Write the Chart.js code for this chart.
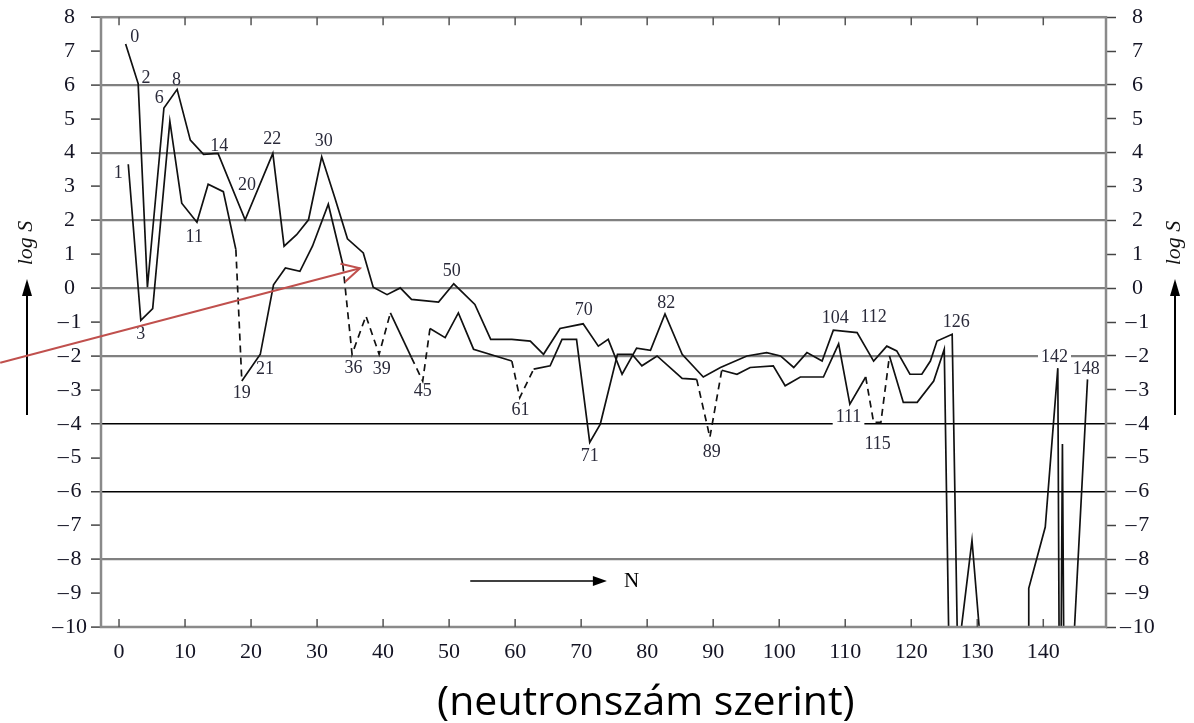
<!DOCTYPE html>
<html>
<head>
<meta charset="utf-8">
<script src="https://cdn.jsdelivr.net/npm/chart.js@4.4.0/dist/chart.umd.min.js"></script>
<style>
  body { margin: 0; background: #fff; }
  canvas { display: block; }
</style>
</head>
<body>
<canvas id="grafikon" width="1194" height="723"></canvas>
<script>
// paros gorbe (felso vonal)
let parosN = [1.0, 2.9, 4.3, 6.8, 8.8, 10.8, 12.8, 15.0, 19.1, 23.3, 25.0, 26.9, 28.7, 30.7, 32.7, 34.6, 37.0, 38.5, 40.6, 42.6,
  44.3, 48.4, 50.7, 53.9, 56.3, 59.5, 62.3, 64.3, 66.8, 70.3, 72.6, 74.1, 76.2, 78.4, 80.5, 82.7, 85.3, 88.5, 91.1, 95.1,
  98.1, 100.2, 102.2, 104.2, 106.5, 108.2, 111.8, 114.3, 116.3, 117.8, 119.8, 121.6, 122.9, 123.9, 126.2, 127.0, 137.7, 137.8, 140.3, 142.2, 142.4];
let parosLogS = [7.21, 6.04, 0.03, 5.32, 5.87, 4.37, 3.95, 3.98, 2.02, 3.98, 1.24, 1.58, 2.02, 3.88, 2.66, 1.46, 1.04, 0.03, -0.19, 0.01,
  -0.33, -0.41, 0.13, -0.48, -1.51, -1.51, -1.56, -1.95, -1.19, -1.05, -1.71, -1.51, -2.54, -1.77, -1.83, -0.76, -1.95, -2.62, -2.34, -2.0,
  -1.9, -2.0, -2.34, -1.9, -2.15, -1.24, -1.31, -2.15, -1.71, -1.85, -2.54, -2.54, -2.15, -1.56, -1.36, -10.5, -10.5, -8.86, -7.05, -2.36, -10.5];

// paratlan gorbe (also vonal)
let paratlanN = [1.4, 3.3, 5.1, 7.7, 9.5, 11.8, 13.5, 15.8, 17.7, 18.6, 21.4, 23.4, 25.2, 27.4, 29.3, 31.7, 33.9, 35.3, 37.4, 39.4,
  41.1, 44.3, 46.0, 47.1, 49.4, 51.4, 53.7, 59.5, 60.7, 62.8, 65.3, 67.1, 69.3, 71.3, 72.9, 75.5, 77.7, 79.2, 81.5, 85.3,
  87.5, 89.5, 91.3, 93.6, 95.6, 99.1, 100.9, 103.2, 106.7, 109.0, 110.7, 113.1, 114.3, 115.4, 116.7, 118.8, 120.9, 123.4, 125.0, 125.7,
  127.3, 129.2, 130.5, 142.7, 142.9, 143.1, 144.6, 146.7];
let paratlanLogS = [3.66, -0.95, -0.6, 4.93, 2.51, 1.95, 3.07, 2.85, 1.14, -2.74, -1.95, 0.1, 0.6, 0.5, 1.24, 2.48, 0.7, -1.95, -0.82, -1.95,
  -0.73, -2.05, -2.74, -1.19, -1.46, -0.73, -1.8, -2.15, -3.23, -2.39, -2.29, -1.51, -1.51, -4.55, -4.01, -1.95, -1.95, -2.29, -2.0, -2.66,
  -2.69, -4.4, -2.42, -2.54, -2.34, -2.29, -2.88, -2.62, -2.62, -1.64, -3.42, -2.62, -3.96, -3.96, -2.0, -3.37, -3.37, -2.74, -1.8, -10.5,
  -10.5, -7.44, -10.5, -10.5, -4.6, -10.5, -10.5, -2.69];

// szaggatott szakaszok a paratlan gorben (N tol-ig)
let szaggatott = [[17.7, 18.6], [33.9, 41.1], [44.3, 47.1], [59.5, 62.8], [87.5, 91.3], [113.1, 116.7]];

// feliratok a gorbek mellett
let feliratSzoveg = ['0', '2', '6', '8', '1', '3', '11', '14', '20', '22', '30', '19', '21', '36', '39', '45', '50', '61', '70', '71',
  '82', '89', '104', '112', '111', '115', '126', '142', '148'];
let feliratN = [2.4, 4.1, 6.1, 8.7, -0.1, 3.3, 11.4, 15.2, 19.4, 23.2, 31.0, 18.6, 22.1, 35.5, 39.8, 46.0, 50.4, 60.8, 70.4, 71.3,
  82.9, 89.8, 108.5, 114.3, 110.5, 114.9, 126.8, 141.7, 146.5];
let feliratLogS = [7.4, 6.2, 5.6, 6.15, 3.4, -1.35, 1.5, 4.2, 3.05, 4.4, 4.35, -3.1, -2.4, -2.35, -2.4, -3.05, 0.5, -3.6, -0.65, -4.95,
  -0.45, -4.85, -0.9, -0.85, -3.8, -4.6, -1.0, -2.05, -2.4];
let dobozos = ['111', '142'];

let xTicks = [0, 10, 20, 30, 40, 50, 60, 70, 80, 90, 100, 110, 120, 130, 140];
let yTicks = [-10, -9, -8, -7, -6, -5, -4, -3, -2, -1, 0, 1, 2, 3, 4, 5, 6, 7, 8];

// N nyil es a piros nyil (adat koordinatakban)
let nNyil = [53.2, 73.9, -8.64];
let pirosNyil = [-18.0, -2.2, 36.5, 0.59];

const serif = 'Liberation Serif';

function szaggatottE(a, b) {
  for (let s of szaggatott) {
    if (a >= s[0] - 0.01 && b <= s[1] + 0.01) return true;
  }
  return false;
}

function minusz(v) {
  return v < 0 ? '\u2013\u200a' + Math.abs(v) : String(v);
}

function pontok(xs, ys) {
  let p = [];
  for (let i = 0; i < xs.length; i++) p.push({ x: xs[i], y: ys[i] });
  return p;
}

function nyilFej(ctx, x, y, szog, hossz, nyitas) {
  ctx.beginPath();
  ctx.moveTo(x - hossz * Math.cos(szog - nyitas), y - hossz * Math.sin(szog - nyitas));
  ctx.lineTo(x, y);
  ctx.lineTo(x - hossz * Math.cos(szog + nyitas), y - hossz * Math.sin(szog + nyitas));
}

const rajz = {
  id: 'rajz',
  afterDatasetsDraw(chart) {
    let ctx = chart.ctx;
    let xs = chart.scales.x, ys = chart.scales.y;
    ctx.save();
    ctx.font = '18px "' + serif + '"';
    ctx.textAlign = 'center';
    ctx.textBaseline = 'middle';
    for (let i = 0; i < feliratSzoveg.length; i++) {
      let px = xs.getPixelForValue(feliratN[i]);
      let py = ys.getPixelForValue(feliratLogS[i]);
      if (dobozos.includes(feliratSzoveg[i])) {
        let w = ctx.measureText(feliratSzoveg[i]).width + 6;
        ctx.fillStyle = '#fff';
        ctx.fillRect(px - w / 2, py - 9, w, 18);
      }
      ctx.fillStyle = '#2a2a3a';
      ctx.fillText(feliratSzoveg[i], px, py);
    }
    ctx.restore();
  },
  afterDraw(chart) {
    let ctx = chart.ctx;
    let a = chart.chartArea;
    let xs = chart.scales.x, ys = chart.scales.y;
    ctx.save();
    // keret
    ctx.strokeStyle = '#8a8a8a';
    ctx.lineWidth = 2.5;
    ctx.strokeRect(a.left, a.top, a.right - a.left, a.bottom - a.top);
    // belso osztasok fent es lent
    ctx.strokeStyle = '#555';
    ctx.lineWidth = 1.5;
    for (let v of xTicks) {
      let px = xs.getPixelForValue(v);
      ctx.beginPath();
      ctx.moveTo(px, a.bottom); ctx.lineTo(px, a.bottom - 8);
      ctx.moveTo(px, a.top); ctx.lineTo(px, a.top + 8);
      ctx.stroke();
    }
    // N nyil
    let n1 = xs.getPixelForValue(nNyil[0]), n2 = xs.getPixelForValue(nNyil[1]), ny = ys.getPixelForValue(nNyil[2]);
    ctx.strokeStyle = '#000';
    ctx.fillStyle = '#000';
    ctx.lineWidth = 1.6;
    ctx.beginPath(); ctx.moveTo(n1, ny); ctx.lineTo(n2 - 6, ny); ctx.stroke();
    ctx.beginPath(); ctx.moveTo(n2, ny); ctx.lineTo(n2 - 14, ny - 5); ctx.lineTo(n2 - 14, ny + 5); ctx.closePath(); ctx.fill();
    ctx.font = '21px "' + serif + '"';
    ctx.textAlign = 'left';
    ctx.textBaseline = 'middle';
    ctx.fillText('N', n2 + 17, ny + 1);
    // log S feliratok nyillal
    for (let lx of [a.left - 74, a.right + 69]) {
      ctx.save();
      ctx.translate(lx - 1, 243);
      ctx.rotate(-Math.PI / 2);
      ctx.font = 'italic 22px "' + serif + '"';
      ctx.textAlign = 'center';
      ctx.textBaseline = 'middle';
      ctx.fillStyle = '#111';
      ctx.fillText('log S', 0, 0);
      ctx.restore();
      ctx.lineWidth = 2;
      ctx.beginPath(); ctx.moveTo(lx, 415); ctx.lineTo(lx, 292); ctx.stroke();
      ctx.beginPath(); ctx.moveTo(lx, 279); ctx.lineTo(lx - 5, 296); ctx.lineTo(lx + 5, 296); ctx.closePath(); ctx.fill();
    }
    // piros nyil
    let r1x = xs.getPixelForValue(pirosNyil[0]), r1y = ys.getPixelForValue(pirosNyil[1]);
    let r2x = xs.getPixelForValue(pirosNyil[2]), r2y = ys.getPixelForValue(pirosNyil[3]);
    ctx.strokeStyle = '#c0504d';
    ctx.lineWidth = 2;
    ctx.beginPath(); ctx.moveTo(r1x, r1y); ctx.lineTo(r2x, r2y); ctx.stroke();
    nyilFej(ctx, r2x, r2y, Math.atan2(r2y - r1y, r2x - r1x), 20, 0.48);
    ctx.stroke();
    // also cim
    ctx.fillStyle = '#000';
    ctx.font = '41px "Open Sans"';
    ctx.textAlign = 'center';
    ctx.textBaseline = 'alphabetic';
    ctx.fillText('(neutronszám szerint)', xs.getPixelForValue(79.8), a.bottom + 88);
    ctx.restore();
  }
};

function racsSzin(ctx) {
  let v = ctx.tick.value;
  if (v % 2 !== 0 || v <= -10 || v >= 8) return 'rgba(0,0,0,0)';
  if (v === -4 || v === -6) return '#000';
  return '#808080';
}
function racsVastag(ctx) {
  let v = ctx.tick.value;
  if (v === -4 || v === -6) return 1.5;
  return 2.2;
}

let tickBetu = { family: serif, size: 22 };

new Chart(document.getElementById('grafikon'), {
  type: 'line',
  data: {
    datasets: [
      {
        data: pontok(parosN, parosLogS),
        borderColor: '#111',
        borderWidth: 1.7,
        pointRadius: 0,
        tension: 0,
        fill: false
      },
      {
        data: pontok(paratlanN, paratlanLogS),
        borderColor: '#111',
        borderWidth: 1.7,
        pointRadius: 0,
        tension: 0,
        fill: false,
        segment: {
          borderDash: ctx => szaggatottE(ctx.p0.parsed.x, ctx.p1.parsed.x) ? [7, 5] : undefined
        }
      }
    ]
  },
  options: {
    responsive: false,
    animation: false,
    events: [],
    layout: { padding: { top: 17, left: 0, right: 0, bottom: 0 } },
    plugins: { legend: { display: false }, tooltip: { enabled: false } },
    scales: {
      x: {
        type: 'linear',
        min: -2.73,
        max: 149.5,
        afterFit: s => { s.height = 96; },
        afterBuildTicks: s => { s.ticks = xTicks.map(v => ({ value: v })); },
        ticks: { padding: 4, font: tickBetu, color: '#141424', maxRotation: 0, autoSkip: false, callback: v => String(v) },
        grid: { display: false },
        border: { display: false }
      },
      y: {
        min: -10,
        max: 8,
        afterFit: s => { s.width = 101; },
        afterBuildTicks: s => { s.ticks = yTicks.map(v => ({ value: v })); },
        ticks: { crossAlign: 'center', padding: 4, font: tickBetu, color: '#141424', autoSkip: false, callback: v => minusz(v) },
        grid: { color: racsSzin, lineWidth: racsVastag, tickColor: '#444', tickWidth: 1.5, tickLength: 10 },
        border: { display: false }
      },
      y2: {
        position: 'right',
        min: -10,
        max: 8,
        afterFit: s => { s.width = 88; },
        afterBuildTicks: s => { s.ticks = yTicks.map(v => ({ value: v })); },
        ticks: { crossAlign: 'center', padding: 4, font: tickBetu, color: '#141424', autoSkip: false, callback: v => minusz(v) },
        grid: { drawOnChartArea: false, tickColor: '#444', tickWidth: 1.5, tickLength: 10 },
        border: { display: false }
      }
    }
  },
  plugins: [rajz]
});
</script>
</body>
</html>
